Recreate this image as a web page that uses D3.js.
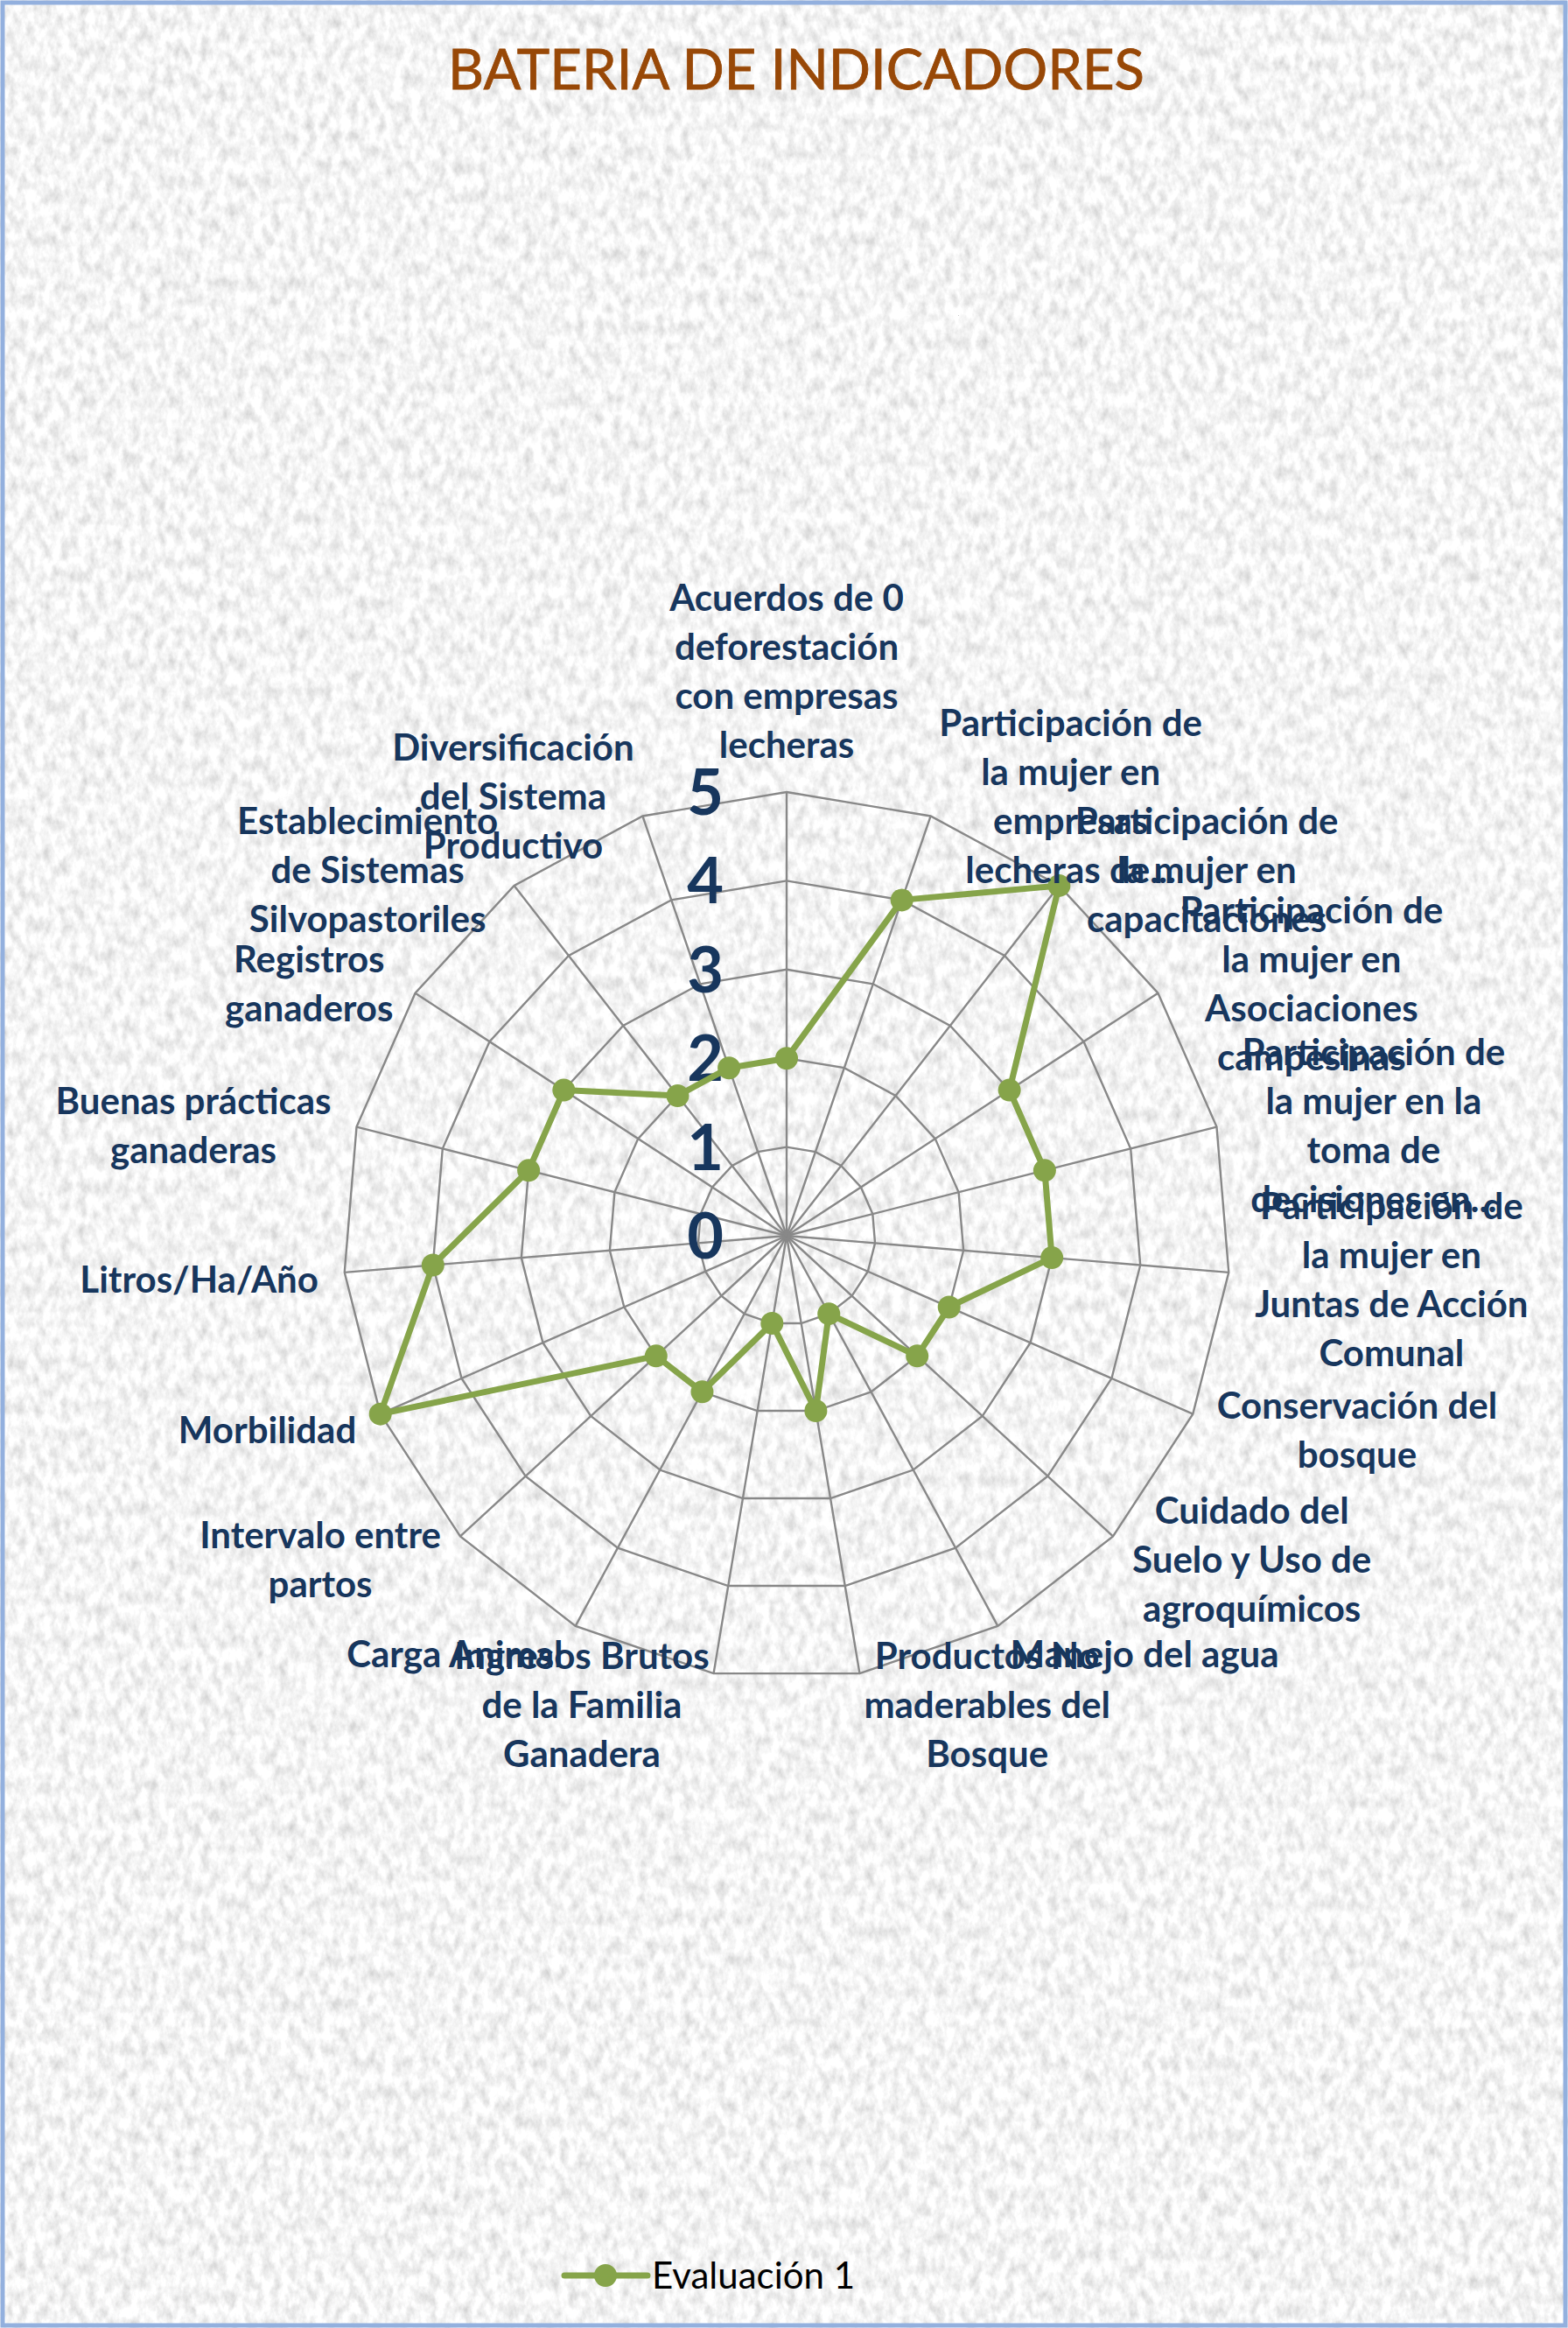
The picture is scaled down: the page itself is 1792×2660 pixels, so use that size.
<!DOCTYPE html>
<html><head><meta charset="utf-8">
<script src="https://cdn.jsdelivr.net/npm/d3@7"></script>
<style>html,body{margin:0;padding:0;background:#fff;} svg{display:block;}</style>
</head><body>
<svg id="chart" width="1792" height="2660"></svg>
<script>
const title = "BATERIA DE INDICADORES";
const seriesName = "Evaluación 1";
const categories = [
 "Acuerdos de 0\ndeforestación\ncon empresas\nlecheras",
 "Participación de\nla mujer en\nempresas\nlecheras de...",
 "Participación de\nla mujer en\ncapacitaciones",
 "Participación de\nla mujer en\nAsociaciones\ncampesinas",
 "Participación de\nla mujer en la\ntoma de\ndecisiones en...",
 "Participación de\nla mujer en\nJuntas de Acción\nComunal",
 "Conservación del\nbosque",
 "Cuidado del\nSuelo y Uso de\nagroquímicos",
 "Manejo del agua",
 "Productos No\nmaderables del\nBosque",
 "Ingresos Brutos\nde la Familia\nGanadera",
 "Carga Animal",
 "Intervalo entre\npartos",
 "Morbilidad",
 "Litros/Ha/Año",
 "Buenas prácticas\nganaderas",
 "Registros\nganaderos",
 "Establecimiento\nde Sistemas\nSilvopastoriles",
 "Diversificación\ndel Sistema\nProductivo"
];
const evaluacion1 = [2,4,5,3,3,3,2,2,1,2,1,2,2,5,4,3,3,2,2];
const tickValues = [0,1,2,3,4,5];

const W = 1792, H = 2660;
const cx = 899, cy = 1412, R = 507;
const green = "#86a44a", gridColor = "#888888", navy = "#17365d";
const labelFont = "Lato, 'Noto Sans', sans-serif";

const svg = d3.select("#chart");
const defs = svg.append("defs");
const f = defs.append("filter").attr("id","granite").attr("x",0).attr("y",0).attr("width",W).attr("height",H)
  .attr("filterUnits","userSpaceOnUse");
f.append("feTurbulence").attr("type","fractalNoise").attr("baseFrequency","0.1 0.06").attr("numOctaves",4).attr("seed",7);
f.append("feColorMatrix").attr("type","matrix")
  .attr("values","0.6 0 0 0 0.61  0.6 0 0 0 0.61  0.6 0 0 0 0.61  0 0 0 0 1");

svg.append("rect").attr("x",0).attr("y",0).attr("width",W).attr("height",H).attr("fill","#e8e8e8");
svg.append("rect").attr("x",0).attr("y",0).attr("width",W).attr("height",H).attr("filter","url(#granite)");
svg.append("rect").attr("x",3).attr("y",3).attr("width",W-6).attr("height",H-6)
  .attr("fill","none").attr("stroke","#93b0de").attr("stroke-width",5);

// title
svg.append("text").attr("x",910).attr("y",102).attr("text-anchor","middle")
  .attr("font-family",labelFont).attr("font-size",64).attr("fill","#984807")
  .attr("stroke","#984807").attr("stroke-width",0.8)
  .attr("textLength",796).attr("lengthAdjust","spacingAndGlyphs").text(title);

const n = categories.length;
const angle = d3.scaleLinear().domain([0,n]).range([0,2*Math.PI]);
const r = d3.scaleLinear().domain([0,5]).range([0,R]);

const g = svg.append("g").attr("transform",`translate(${cx},${cy})`);
const idx = d3.range(n);

// rings
g.selectAll("path.ring").data(tickValues.filter(v=>v>0)).join("path")
  .attr("class","ring")
  .attr("d", v => d3.lineRadial().angle(i=>angle(i)).radius(()=>r(v)).curve(d3.curveLinearClosed)(idx))
  .attr("fill","none").attr("stroke",gridColor).attr("stroke-width",2.4);
// spokes
g.selectAll("line.spoke").data(idx).join("line")
  .attr("x1",0).attr("y1",0)
  .attr("x2",i=>r(5)*Math.sin(angle(i))).attr("y2",i=>-r(5)*Math.cos(angle(i)))
  .attr("stroke",gridColor).attr("stroke-width",2.4);

// tick labels
g.selectAll("text.tick").data(tickValues).join("text")
  .attr("x",-93).attr("y",v=>-r(v)).attr("dy","0.36em")
  .attr("text-anchor","middle").attr("font-family",labelFont).attr("font-weight",700)
  .attr("font-size",72).attr("fill",navy).text(v=>v);

// series
g.append("path").datum(evaluacion1)
  .attr("d", d3.lineRadial().angle((d,i)=>angle(i)).radius(d=>r(d)).curve(d3.curveLinearClosed))
  .attr("fill","none").attr("stroke",green).attr("stroke-width",7).attr("stroke-linejoin","round");
g.selectAll("circle.pt").data(evaluacion1).join("circle")
  .attr("cx",(d,i)=>r(d)*Math.sin(angle(i))).attr("cy",(d,i)=>-r(d)*Math.cos(angle(i)))
  .attr("r",13).attr("fill",green);

// category labels
const gap = 30, LH = 56, FS = 42;
categories.forEach((c,i)=>{
  const a = angle(i), s = Math.sin(a), co = Math.cos(a);
  const px = (R+gap)*s, py = -(R+gap)*co;
  const lines = c.split("\n");
  const lg = g.append("g");
  const texts = lines.map(l => lg.append("text").attr("text-anchor","middle")
     .attr("font-family",labelFont).attr("font-weight",700).attr("font-size",FS)
     .attr("fill",navy).text(l));
  const w = d3.max(texts, t=>t.node().getComputedTextLength());
  let xc, centers;
  const m = lines.length;
  if (Math.abs(s) < 1e-6) {
    xc = px;
    centers = lines.map((l,k)=> co>0 ? py - 24 - (m-1-k)*LH : py + 24 + k*LH);
  } else {
    xc = s>0 ? px + w/2 : px - w/2;
    const mid = py + 6;
    centers = lines.map((l,k)=> mid + (k-(m-1)/2)*LH);
  }
  texts.forEach((t,k)=> t.attr("x",xc).attr("y",centers[k]).attr("dy","0.36em"));
});

// legend
const lgd = svg.append("g");
lgd.append("line").attr("x1",645).attr("x2",740).attr("y1",2600).attr("y2",2600)
  .attr("stroke",green).attr("stroke-width",7).attr("stroke-linecap","round");
lgd.append("circle").attr("cx",692).attr("cy",2600).attr("r",13).attr("fill",green);
lgd.append("text").attr("x",745).attr("y",2600).attr("dy","0.36em")
  .attr("font-family",labelFont).attr("font-size",42).attr("fill","#000").text(seriesName);
</script>
</body></html>
